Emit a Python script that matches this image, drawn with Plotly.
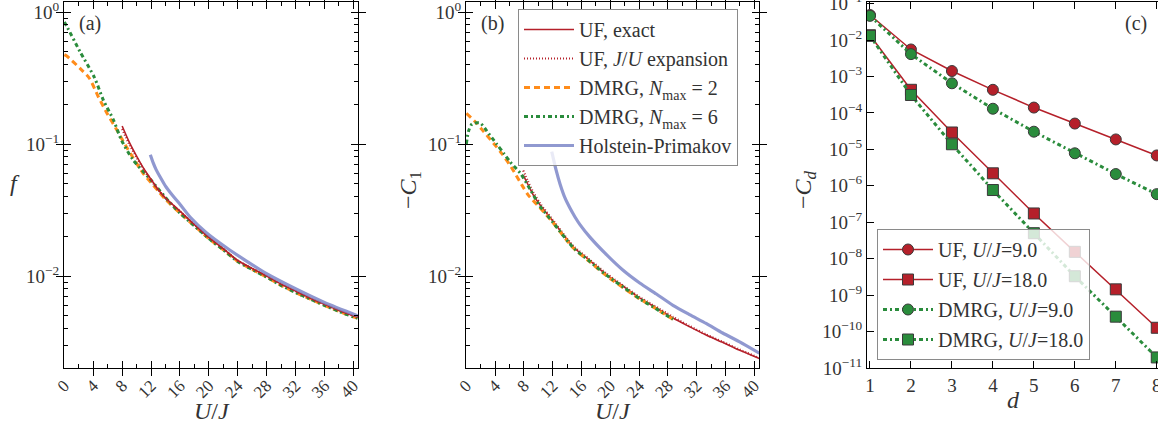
import plotly.graph_objects as go

FONT = "Liberation Serif"
TXT = "#333333"
RED = "#b5202a"
ORANGE = "#ff8c1a"
GREEN = "#2a8c3c"
BLUE = "#7d87c8"

# ---------------- panel (a): f vs U/J ----------------
a_uf_U = [8, 9, 10, 11, 12, 13, 14, 16, 18, 20, 22, 24, 26, 28, 30, 32, 34, 36, 38, 40, 40.6]
a_uf_f = [0.137, 0.103, 0.081, 0.065, 0.054, 0.045, 0.039, 0.031, 0.0245, 0.0196, 0.0161, 0.0131,
          0.0114, 0.0100, 0.0087, 0.0077, 0.0068, 0.0061, 0.0055, 0.0050, 0.0049]
a_ufx_U = [8, 9, 10, 11, 12, 13, 14, 16, 18, 20, 22, 24, 26, 28, 30, 32, 34, 36, 38, 40, 40.6]
a_ufx_f = [0.130, 0.099, 0.079, 0.064, 0.053, 0.045, 0.039, 0.031, 0.0245, 0.0196, 0.0161, 0.0131,
           0.0114, 0.0100, 0.0087, 0.0077, 0.0068, 0.0061, 0.0055, 0.0050, 0.0049]
a_d2_U = [0, 0.33, 2.17, 3.46, 4.7, 5.9, 7.25, 8.6, 10.9, 12, 13, 14, 16, 18, 20, 22, 24, 26, 28, 30, 32, 34, 36, 38, 40, 40.6]
a_d2_f = [0.475, 0.464, 0.374, 0.315, 0.228, 0.171, 0.128, 0.095, 0.060, 0.051, 0.044,
          0.038, 0.030, 0.0240, 0.0192, 0.0158, 0.0129, 0.0112, 0.0098, 0.0085, 0.0075, 0.0067,
          0.0060, 0.0054, 0.0049, 0.0048]
a_d6_U = [0, 0.33, 2.17, 4.15, 5.4, 6.8, 7.9, 9.5, 11.9, 14.6, 16, 18, 20, 22, 24, 26, 28, 30, 32, 34, 36, 38, 40, 40.6]
a_d6_f = [0.84, 0.78, 0.50, 0.32, 0.215, 0.152, 0.107, 0.076, 0.054, 0.036, 0.030, 0.0240, 0.0192,
          0.0158, 0.0129, 0.0112, 0.0098, 0.0085, 0.0075, 0.0067, 0.0060, 0.0054, 0.0049, 0.0048]
a_hp_U = [11.9, 12.3, 12.7, 13.2, 14, 15.1, 16, 17.4, 19.7, 22.5, 25, 28, 32, 36, 40.6]
a_hp_f = [0.083, 0.072, 0.064, 0.057, 0.048, 0.040, 0.035, 0.028, 0.0212, 0.0163, 0.0132, 0.0104,
          0.0080, 0.0063, 0.0050]

# ---------------- panel (b): -C1 vs U/J ----------------
b_uf_U = [7.9, 8.5, 9.3, 10.24, 12, 14.85, 17, 19.5, 22, 24.1, 26, 28.7, 31, 33.3, 35.5, 37.9, 40.7]
b_uf_c = [0.058, 0.050, 0.041, 0.0345, 0.0261, 0.0166, 0.0133, 0.0102, 0.0082, 0.0068, 0.0059,
          0.0048, 0.00413, 0.00357, 0.00316, 0.00275, 0.00237]
b_ufx_U = [7.9, 8.5, 9.3, 10.24, 12, 14.85, 17, 19.5, 22, 24.1, 26, 28.7, 31, 33.3, 35.5, 37.9, 40.7]
b_ufx_c = [0.063, 0.053, 0.043, 0.0355, 0.0266, 0.0169, 0.0135, 0.0104, 0.0083, 0.0069, 0.0060,
           0.0049, 0.00418, 0.00361, 0.00319, 0.00278, 0.00239]
b_d2_U = [0, 1.25, 2.2, 3.8, 4.9, 6.3, 7.7, 8.6, 10.2, 12, 14.85, 17, 19.5, 22, 24.1, 26, 28.7]
b_d2_c = [0.171, 0.147, 0.128, 0.101, 0.085, 0.066, 0.049, 0.041, 0.033, 0.0255, 0.0163, 0.0130,
          0.0100, 0.0080, 0.0067, 0.0058, 0.0047]
b_d6_U = [0, 0.3, 0.8, 1.9, 3.1, 4.2, 5.2, 6.1, 7.5, 8.9, 10.2, 12, 14.85, 17, 19.5, 22, 24.1, 26, 28.7]
b_d6_c = [0.100, 0.125, 0.142, 0.144, 0.120, 0.100, 0.085, 0.073, 0.060, 0.045, 0.034, 0.0256,
          0.0164, 0.0131, 0.0101, 0.0081, 0.0067, 0.0058, 0.0047]
b_hp_U = [11.86, 12.46, 13.01, 13.7, 14.39, 15.09, 15.78, 17.16, 19.47, 21.73, 24.08, 26.4, 28.7,
          31, 33.3, 35.6, 37.9, 40.7]
b_hp_c = [0.0875, 0.0636, 0.0498, 0.039, 0.0327, 0.028, 0.0245, 0.0197, 0.0145, 0.0111, 0.00885,
          0.0073, 0.0060, 0.0051, 0.00437, 0.0037, 0.00318, 0.0026]

# ---------------- panel (c): -C_d vs d ----------------
d_vals = [1, 2, 3, 4, 5, 6, 7, 8]
c_uf9 = [0.0485, 0.0055, 0.00141, 4.3e-4, 1.4e-4, 5.1e-5, 1.87e-5, 6.8e-6]
c_uf18 = [0.0135, 4.3e-4, 2.9e-5, 2.2e-6, 1.74e-7, 1.54e-8, 1.44e-9, 1.27e-10]
c_dm9 = [0.046, 0.0041, 6.5e-4, 1.3e-4, 3.05e-5, 7.8e-6, 2.1e-6, 5.9e-7]
c_dm18 = [0.0130, 3.1e-4, 1.38e-5, 7.65e-7, 5.0e-8, 3.3e-9, 2.56e-10, 1.95e-11]

legend_b = ["UF, exact", "UF, <i>J</i>/<i>U</i> expansion", "DMRG, <i>N</i><sub>max</sub> = 2",
            "DMRG, <i>N</i><sub>max</sub> = 6", "Holstein-Primakov"]
legend_c = ["UF, <i>U</i>/<i>J</i>=9.0", "UF, <i>U</i>/<i>J</i>=18.0",
            "DMRG, <i>U</i>/<i>J</i>=9.0", "DMRG, <i>U</i>/<i>J</i>=18.0"]

W, H = 1158, 424
def px(x):
    return x / W
def py(y):
    return 1 - y / H

fig = go.Figure()

styles = [
    dict(color=RED, width=1.6),
    dict(color=RED, width=2.2, dash="1px,2px"),
    dict(color=ORANGE, width=3, dash="6px,4px"),
    dict(color=GREEN, width=3, dash="4px,3px,2px,3px"),
    dict(color=BLUE, width=3.2),
]

panel_a = [(a_uf_U, a_uf_f), (a_ufx_U, a_ufx_f), (a_d2_U, a_d2_f), (a_d6_U, a_d6_f), (a_hp_U, a_hp_f)]
panel_b = [(b_uf_U, b_uf_c), (b_ufx_U, b_ufx_c), (b_d2_U, b_d2_c), (b_d6_U, b_d6_c), (b_hp_U, b_hp_c)]
order = [2, 3, 1, 0, 4]
for i in order:
    xs, ys = panel_a[i]
    fig.add_trace(go.Scatter(x=xs, y=ys, mode="lines", line=dict(shape="spline", smoothing=0.7, **styles[i]),
                             opacity=0.85 if i == 4 else 1, showlegend=False, xaxis="x", yaxis="y"))
for i in range(5):
    xs, ys = panel_b[i]
    fig.add_trace(go.Scatter(x=xs, y=ys, mode="lines", line=dict(shape="spline", smoothing=0.7, **styles[i]),
                             opacity=0.85 if i == 4 else 1, name=legend_b[i], legend="legend",
                             legendgroup="b%d" % i, xaxis="x2", yaxis="y2"))

c_series = [(c_uf9, RED, "circle", "solid", 1.5), (c_uf18, RED, "square", "solid", 1.5),
            (c_dm9, GREEN, "circle", "4px,3px,2px,3px", 3), (c_dm18, GREEN, "square", "4px,3px,2px,3px", 3)]
for k, (vals, col, sym, dash, lw) in enumerate(c_series):
    fig.add_trace(go.Scatter(x=d_vals, y=vals, mode="lines+markers", name=legend_c[k],
                             line=dict(color=col, width=lw, dash=dash),
                             marker=dict(symbol=sym, size=11, color=col, line=dict(color="#3a3a3a", width=1)),
                             legend="legend2", legendgroup="c%d" % k, xaxis="x3", yaxis="y3"))

# invisible anchors so the minor-tick overlay axes are drawn
for xa, ya, xv, yv in [("x", "y4", 20, 0.05), ("x2", "y5", 20, 0.05), ("x4", "y", 20, 0.05), ("x5", "y2", 20, 0.05)]:
    fig.add_trace(go.Scatter(x=[xv], y=[yv], mode="markers", marker=dict(opacity=0), showlegend=False,
                             hoverinfo="skip", xaxis=xa, yaxis=ya))

tickfont = dict(family=FONT, size=19, color=TXT)
base = dict(showline=True, linecolor="black", linewidth=1.3, ticks="inside", ticklen=7,
            tickwidth=1.2, tickcolor="black", showgrid=False, zeroline=False, tickfont=tickfont,
            automargin=False, ticklabeloverflow="allow")

ydom = [py(368), py(2)]
URANGE = [-0.05, 40.65]
YRANGE = [-2.697, 0.0758]
xab = dict(base, type="linear", range=URANGE, tickmode="array",
           tickvals=list(range(0, 41, 4)), ticktext=[str(v) for v in range(0, 41, 4)],
           tickangle=-45, mirror="allticks", tickfont=dict(family=FONT, size=17, color=TXT))
yab = dict(base, type="log", range=YRANGE, tickmode="array", tickvals=[1, 0.1, 0.01],
           ticktext=["10<sup>0</sup>", "10<sup>−1</sup>", "10<sup>−2</sup>"], mirror="allticks")

minor_y = [m * 10.0 ** e for e in (-3, -2, -1, 0) for m in range(2, 10)]
minor_x = list(range(2, 41, 4))
minor_common = dict(showline=False, showgrid=False, zeroline=False, ticks="inside", ticklen=4,
                    tickwidth=1, tickcolor="black", mirror="allticks", automargin=False,
                    showticklabels=False, tickmode="array")

fig.update_layout(
    template="none",
    width=W, height=H, margin=dict(l=0, r=0, t=0, b=0, autoexpand=False),
    paper_bgcolor="white", plot_bgcolor="white",
    font=dict(family=FONT, color=TXT),
    xaxis=dict(xab, domain=[px(64), px(358)], anchor="y"),
    yaxis=dict(yab, domain=ydom, anchor="x"),
    xaxis2=dict(xab, domain=[px(466), px(759)], anchor="y2"),
    yaxis2=dict(yab, domain=ydom, anchor="x2"),
    xaxis3=dict(base, domain=[px(867), 1.0], anchor="y3", range=[0.927, 8.03], tickmode="array",
                tickvals=d_vals, ticktext=[str(v) for v in d_vals], mirror="allticks"),
    yaxis3=dict(base, type="log", domain=ydom, anchor="x3", range=[-11, -0.957], tickmode="array",
                tickvals=[10 ** (-k) for k in range(1, 12)],
                ticktext=["10<sup>−%d</sup>" % k for k in range(1, 12)], mirror=False),
    yaxis4=dict(minor_common, type="log", range=YRANGE, overlaying="y", anchor="x", tickvals=minor_y),
    yaxis5=dict(minor_common, type="log", range=YRANGE, overlaying="y2", anchor="x2", tickvals=minor_y),
    xaxis4=dict(minor_common, type="linear", range=URANGE, overlaying="x", anchor="y", tickvals=minor_x),
    xaxis5=dict(minor_common, type="linear", range=URANGE, overlaying="x2", anchor="y2", tickvals=minor_x),
    legend=dict(x=px(518), y=py(9), xanchor="left", yanchor="top", bgcolor="rgba(255,255,255,0.8)",
                bordercolor="#8a8a8a", borderwidth=1, font=dict(family=FONT, size=20, color=TXT),
                tracegroupgap=0, traceorder="grouped", itemwidth=50),
    legend2=dict(x=px(877), y=py(229), xanchor="left", yanchor="top", bgcolor="rgba(255,255,255,0.8)",
                 bordercolor="#8a8a8a", borderwidth=1, font=dict(family=FONT, size=20, color=TXT),
                 tracegroupgap=1, traceorder="grouped", itemwidth=50),
)

ann = [
    dict(text="(a)", x=px(90), y=py(24)),
    dict(text="(b)", x=px(492), y=py(24)),
    dict(text="(c)", x=px(1136), y=py(24)),
    dict(text="<i>f</i>", x=px(15), y=py(183), size=24),
    dict(text="−<i>C</i><sub>1</sub>", x=px(410), y=py(190), size=24, angle=-90),
    dict(text="−<i>C</i><sub><i>d</i></sub>", x=px(805), y=py(190), size=24, angle=-90),
    dict(text="<i>U</i>/<i>J</i>", x=px(212), y=py(411), size=24),
    dict(text="<i>U</i>/<i>J</i>", x=px(613), y=py(411), size=24),
    dict(text="<i>d</i>", x=px(1013), y=py(400), size=24),
]
for a in ann:
    fig.add_annotation(text=a["text"], x=a["x"], y=a["y"], xref="paper", yref="paper",
                       showarrow=False, xanchor="center", yanchor="middle",
                       textangle=a.get("angle", 0),
                       font=dict(family=FONT, size=a.get("size", 20), color=TXT))

fig.write_html("out.html")
